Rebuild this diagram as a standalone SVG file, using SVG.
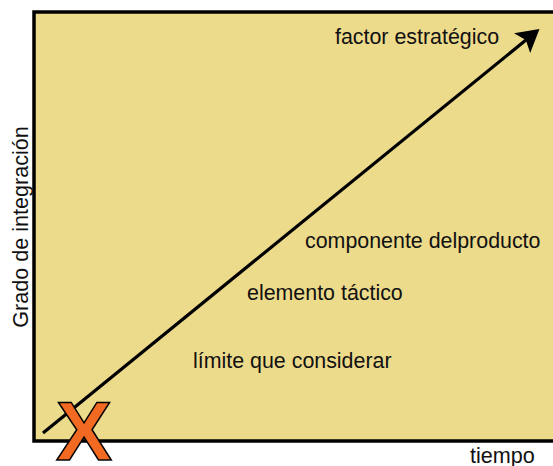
<svg xmlns="http://www.w3.org/2000/svg" width="553" height="466" viewBox="0 0 553 466">
<defs>
<style>
.lbl{font-family:"Liberation Sans",Arial,sans-serif;font-size:21.4px;fill:#111}
.ax{font-family:"Liberation Sans",Arial,sans-serif;font-size:21.6px;fill:#111}
</style>
<marker id="ah" markerWidth="8" markerHeight="8" refX="6" refY="4" orient="auto" markerUnits="strokeWidth">
<path d="M0,0 L7,4 L0,8 L1.5,4 Z" fill="#000"/>
</marker>
</defs>
<g id="frame">
<rect x="34" y="12" width="530" height="429" fill="#EDDB8C" stroke="#000" stroke-width="3.5"/>
</g>
<g id="connectors">
<line x1="43" y1="433" x2="537" y2="31" stroke="#000" stroke-width="3.2" marker-end="url(#ah)"/>
</g>
<g id="n1"><text class="lbl" x="335" y="44">factor estratégico</text></g>
<g id="n2"><text class="lbl" x="305" y="248">componente delproducto</text></g>
<g id="n3"><text class="lbl" x="247" y="300">elemento táctico</text></g>
<g id="n4"><text class="lbl" x="193" y="368">límite que considerar</text></g>
<g id="xmark"><text x="84" y="460" text-anchor="middle" font-family="Liberation Sans, Arial, sans-serif" font-weight="bold" font-size="84" fill="#F26A22" stroke="#000" stroke-width="1.5">X</text></g>
<g id="xlabel"><text class="ax" x="470" y="463">tiempo</text></g>
<g id="ylabel"><text class="ax" transform="translate(28,227) rotate(-90)" text-anchor="middle">Grado de integración</text></g>
</svg>
